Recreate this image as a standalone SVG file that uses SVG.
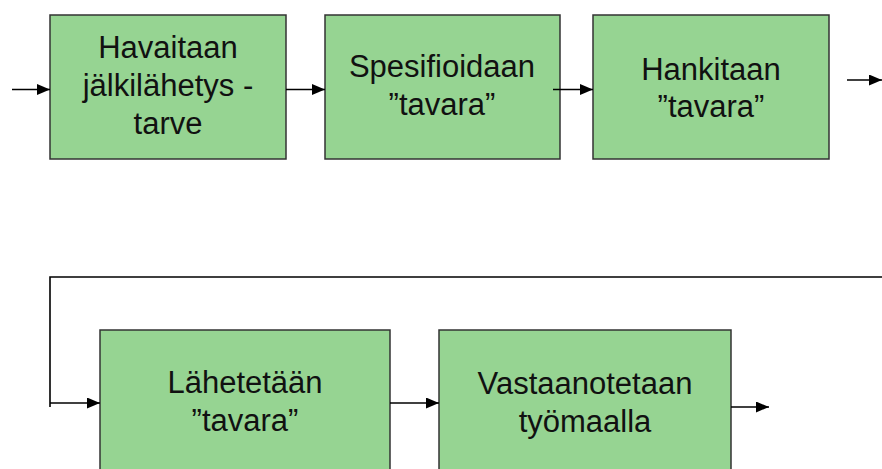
<svg xmlns="http://www.w3.org/2000/svg" width="882" height="469" viewBox="0 0 882 469">
  <style>
    .box { fill: #96d492; stroke: #333333; stroke-width: 1.5; }
    .label { font-family: "Liberation Sans", Arial, sans-serif; font-size: 31px; fill: #111111; text-anchor: middle; }
    .conn { fill: none; stroke: #000000; stroke-width: 1.6; }
  </style>
  <defs>
    <marker id="arrow" viewBox="0 0 13 11" refX="13" refY="5.5" markerWidth="13" markerHeight="11" markerUnits="userSpaceOnUse" orient="auto">
      <path d="M0,0 L13,5.5 L0,11 Z" fill="#000000"/>
    </marker>
  </defs>

  <!-- process steps -->
  <g id="havaitaan">
    <rect class="box" x="50" y="15" width="236" height="144"/>
    <text class="label" x="168" y="58">Havaitaan</text>
    <text class="label" x="168" y="96">jälkilähetys -</text>
    <text class="label" x="168" y="134">tarve</text>
  </g>
  <g id="spesifioidaan">
    <rect class="box" x="325" y="15" width="235" height="144"/>
    <text class="label" x="442" y="77">Spesifioidaan</text>
    <text class="label" x="442" y="115">”tavara”</text>
  </g>
  <g id="hankitaan">
    <rect class="box" x="593" y="15" width="236" height="144"/>
    <text class="label" x="711" y="80">Hankitaan</text>
    <text class="label" x="711" y="117">”tavara”</text>
  </g>
  <g id="lahetetaan">
    <rect class="box" x="100" y="330" width="290" height="150"/>
    <text class="label" x="245" y="393">Lähetetään</text>
    <text class="label" x="245" y="431">”tavara”</text>
  </g>
  <g id="vastaanotetaan">
    <rect class="box" x="439" y="330" width="292" height="150"/>
    <text class="label" x="585" y="394">Vastaanotetaan</text>
    <text class="label" x="585" y="432">työmaalla</text>
  </g>

  <!-- connectors -->
  <g id="connectors">
    <line class="conn" x1="12" y1="89.5" x2="50" y2="89.5" marker-end="url(#arrow)"/>
    <line class="conn" x1="286" y1="89.5" x2="325" y2="89.5" marker-end="url(#arrow)"/>
    <line class="conn" x1="553" y1="89.5" x2="593" y2="89.5" marker-end="url(#arrow)"/>
    <line class="conn" x1="847" y1="80" x2="882" y2="80" marker-end="url(#arrow)"/>
    <polyline class="conn" points="882,277 50,277 50,407"/>
    <line class="conn" x1="50" y1="403" x2="100" y2="403" marker-end="url(#arrow)"/>
    <line class="conn" x1="390" y1="403" x2="439" y2="403" marker-end="url(#arrow)"/>
    <line class="conn" x1="731" y1="407" x2="769" y2="407" marker-end="url(#arrow)"/>
  </g>
</svg>
